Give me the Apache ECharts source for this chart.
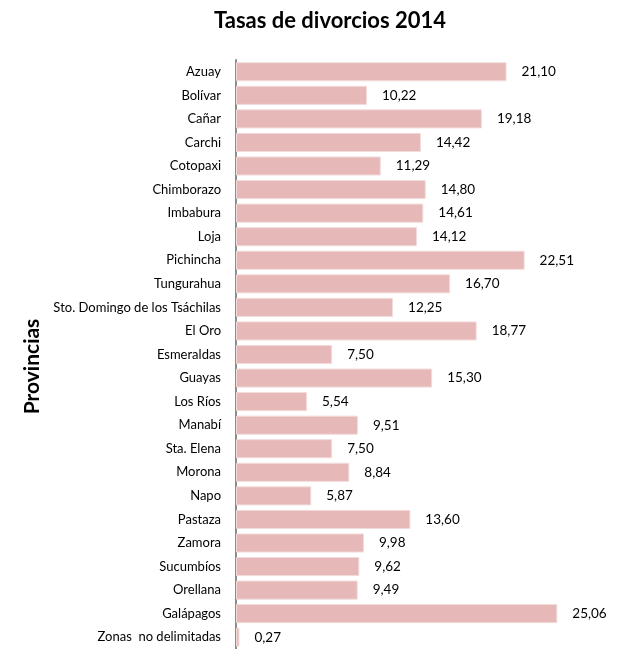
<!DOCTYPE html>
<html>
<head>
<meta charset="utf-8">
<script src="https://cdn.jsdelivr.net/npm/echarts@6/dist/echarts.min.js"></script>
<style>
  html, body { margin: 0; padding: 0; background: #fff; }
</style>
</head>
<body>
<div id="chart" style="width:617px;height:649px;"></div>
<script>
// provincias, de arriba hacia abajo
const provincias = [
    'Azuay', 'Bolívar', 'Cañar', 'Carchi', 'Cotopaxi', 'Chimborazo', 'Imbabura', 'Loja',
    'Pichincha', 'Tungurahua', 'Sto. Domingo de los Tsáchilas', 'El Oro', 'Esmeraldas',
    'Guayas', 'Los Ríos', 'Manabí', 'Sta. Elena', 'Morona', 'Napo', 'Pastaza', 'Zamora',
    'Sucumbíos', 'Orellana', 'Galápagos', 'Zonas  no delimitadas'
]
const tasas = [
    21.10, 10.22, 19.18, 14.42, 11.29, 14.80, 14.61, 14.12,
    22.51, 16.70, 12.25, 18.77, 7.50,
    15.30, 5.54, 9.51, 7.50, 8.84, 5.87, 13.60, 9.98,
    9.62, 9.49, 25.06, 0.27
]

const fuente = 'Lato, "Open Sans", sans-serif'

const option = {
    animation: false,
    title: {
        text: 'Tasas de divorcios 2014',
        left: 325,
        textAlign: 'center',
        top: 5,
        textStyle: { fontFamily: fuente, fontSize: 22, fontWeight: 'bold', color: '#000' }
    },
    grid: { left: 236, right: 22, top: 60, bottom: -1, containLabel: false },
    xAxis: {
        type: 'value',
        min: 0,
        max: 28,
        show: false
    },
    yAxis: {
        type: 'category',
        inverse: true,
        data: provincias,
        name: 'Provincias',
        nameLocation: 'middle',
        nameGap: 186,
        nameRotate: 90,
        nameTextStyle: { fontFamily: fuente, fontSize: 21, fontWeight: 'bold', color: '#000', padding: [0, 24, 0, 0] },
        axisLine: { show: true, lineStyle: { color: '#8c8c8c', width: 2 } },
        axisTick: { show: false },
        axisLabel: { margin: 15, fontFamily: fuente, fontSize: 13, color: '#000' }
    },
    series: [{
        type: 'bar',
        data: tasas,
        barCategoryGap: '19%',
        itemStyle: { color: '#e6b8b7', borderColor: '#f2dcdb', borderWidth: 1 },
        label: {
            show: true,
            position: 'right',
            distance: 15,
            fontFamily: fuente,
            fontSize: 13.5,
            color: '#000',
            formatter: p => p.value.toFixed(2).replace('.', ',')
        }
    }]
}

const chart = echarts.init(document.getElementById('chart'))
chart.setOption(option)
</script>
</body>
</html>
